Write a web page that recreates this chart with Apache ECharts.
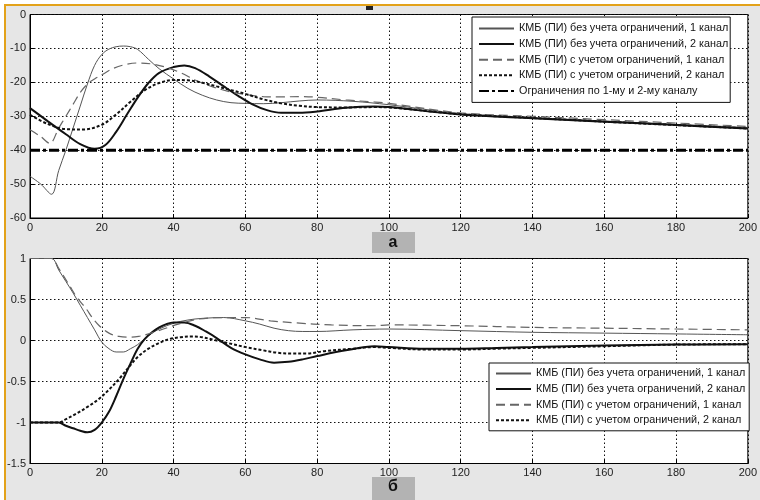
<!DOCTYPE html>
<html>
<head>
<meta charset="utf-8">
<script src="https://cdn.jsdelivr.net/npm/echarts@6/dist/echarts.min.js"></script>
<style>
html,body{margin:0;padding:0;background:#fff;}
#wrap{position:relative;width:760px;height:500px;}
#deco{position:absolute;left:4px;top:4px;width:754px;height:494px;background:#e6e6e6;border-left:2px solid #e3a21a;border-top:2px solid #e3a21a;}
#chart{position:absolute;left:0;top:0;width:760px;height:500px;}
</style>
</head>
<body>
<div id="wrap"><div id="deco"></div><div id="chart"></div></div>
<script>
// ---- names ----
const names = [
  'КМБ (ПИ) без учета ограничений, 1 канал',
  'КМБ (ПИ) без учета ограничений, 2 канал',
  'КМБ (ПИ) с учетом ограничений, 1 канал',
  'КМБ (ПИ) с учетом ограничений, 2 канал',
  'Ограничения по 1-му и 2-му каналу'
];
const panelLabels = ['а', 'б'];
const xTicks = [0, 20, 40, 60, 80, 100, 120, 140, 160, 180, 200];
const yTicksTop = [-60, -50, -40, -30, -20, -10, 0];
const yTicksBottom = [-1.5, -1, -0.5, 0, 0.5, 1];

// ---- panel а (top) ----
const tA1 = [0, 3, 6, 8, 10, 12, 14, 16, 18, 20, 22, 24, 26, 28, 30, 33, 36, 40, 44, 48, 52, 56, 60, 65, 70, 75, 80, 90, 100, 120, 140, 160, 180, 200];
const vA1 = [-47.7, -50, -53, -46, -40, -33.5, -27, -20.5, -15, -11.8, -10.2, -9.5, -9.3, -9.5, -10.3, -13.2, -16, -19, -21.8, -23.8, -25.2, -26, -26.2, -26.3, -26, -25.5, -25.2, -25.6, -26.6, -29.2, -30.4, -31.4, -32.4, -33.3];

const tA2 = [0, 5, 10, 14, 18, 21, 24, 27, 30, 33, 36, 40, 43, 46, 50, 54, 58, 62, 66, 70, 75, 80, 88, 96, 100, 120, 140, 160, 180, 200];
const vA2 = [-27.6, -31.5, -35.3, -38.2, -39.6, -38.5, -34.6, -29.5, -24.5, -20.2, -17.2, -15.5, -15, -15.8, -18.3, -21.2, -24, -26.5, -28.2, -29, -29, -28.6, -27.5, -27.1, -27.3, -29.5, -30.6, -31.6, -32.6, -33.6];

const tA3 = [0, 3, 5.5, 8, 10, 12, 14, 16, 18, 20, 23, 26, 30, 34, 38, 42, 46, 50, 55, 60, 65, 70, 75, 80, 88, 96, 100, 120, 140, 160, 180, 200];
const vA3 = [-34, -36, -38, -33.5, -30, -26.5, -23, -20.5, -19, -17.8, -16, -14.9, -14.3, -14.6, -15.6, -17.2, -19.3, -21, -22.6, -23.6, -24.2, -24.3, -24.2, -24.4, -25.2, -25.8, -26.2, -29, -30, -31, -32, -33];

const tA4 = [0, 5, 10, 15, 20, 24, 28, 32, 36, 40, 44, 48, 52, 56, 60, 65, 70, 75, 80, 88, 96, 100, 120, 140, 160, 180, 200];
const vA4 = [-29.6, -32.3, -33.8, -33.9, -32.5, -29.5, -25.7, -22.3, -20.2, -19.3, -19.4, -20.1, -21.2, -22.3, -23.4, -25, -26.2, -26.9, -27.3, -27.4, -27.3, -27.4, -29.4, -30.5, -31.6, -32.6, -33.6];

const tLim = [0, 200];
const vLim = [-40, -40];

// ---- panel б (bottom) ----
const tB1 = [0, 6, 8, 10, 12, 14, 16, 18, 20, 22, 24, 26, 28, 30, 33, 36, 40, 44, 48, 54, 60, 64, 68, 72, 76, 80, 90, 100, 120, 140, 160, 180, 200];
const vB1 = [1, 1, 0.86, 0.72, 0.58, 0.43, 0.28, 0.13, -0.02, -0.1, -0.14, -0.14, -0.1, -0.05, 0.06, 0.14, 0.21, 0.25, 0.27, 0.28, 0.24, 0.2, 0.15, 0.12, 0.11, 0.11, 0.13, 0.14, 0.12, 0.1, 0.09, 0.08, 0.07];

const tB2 = [0, 8, 10, 12, 14, 16, 18, 20, 22, 24, 26, 28, 30, 32, 34, 36, 38, 40, 43, 46, 49, 52, 56, 60, 64, 68, 72, 76, 80, 88, 96, 100, 110, 120, 130, 140, 160, 180, 200];
const vB2 = [-1, -1, -1.04, -1.07, -1.1, -1.12, -1.09, -1.0, -0.87, -0.68, -0.47, -0.28, -0.1, 0.02, 0.1, 0.16, 0.2, 0.22, 0.22, 0.18, 0.11, 0.03, -0.09, -0.17, -0.23, -0.27, -0.26, -0.23, -0.19, -0.12, -0.07, -0.08, -0.1, -0.1, -0.09, -0.08, -0.06, -0.05, -0.045];

const tB3 = [0, 6, 8, 11, 13, 15.6, 17.5, 19.3, 22, 24.8, 28, 30.3, 33, 35.8, 38.5, 41.3, 46.8, 54, 60, 67, 74, 84, 96, 100, 120, 140, 160, 180, 200];
const vB3 = [1, 1, 0.88, 0.67, 0.53, 0.39, 0.27, 0.18, 0.09, 0.05, 0.04, 0.05, 0.08, 0.12, 0.16, 0.2, 0.26, 0.28, 0.28, 0.24, 0.215, 0.19, 0.18, 0.19, 0.18, 0.16, 0.15, 0.14, 0.13];

const tB4 = [0, 8, 10, 13, 16, 19, 22, 25, 28, 30, 33, 36, 39, 42, 45, 48, 51, 55, 60, 65, 69, 73, 77, 82, 90, 96, 100, 110, 120, 130, 140, 160, 180, 200];
const vB4 = [-1, -1, -0.96, -0.89, -0.81, -0.72, -0.6, -0.46, -0.3, -0.2, -0.1, -0.03, 0.02, 0.04, 0.05, 0.04, 0.01, -0.03, -0.08, -0.12, -0.15, -0.16, -0.16, -0.13, -0.1, -0.08, -0.09, -0.11, -0.11, -0.1, -0.09, -0.07, -0.05, -0.045];

// ---- build ----
const zip = (t, v) => t.map((x, i) => [x, v[i]]);
const FONT = 'Liberation Sans, Arial, sans-serif';

const styles = [
  {color: '#555', width: 1, type: 'solid'},
  {color: '#111', width: 2, type: 'solid'},
  {color: '#666', width: 1.2, type: [9, 5]},
  {color: '#111', width: 2, type: [3, 2]},
  {color: '#000', width: 3, type: [10, 3, 3, 3]}
];

function mk(name, idx, data, axis) {
  const s = styles[idx];
  return {
    name: name, type: 'line', data: data,
    xAxisIndex: axis, yAxisIndex: axis,
    showSymbol: false, symbol: 'none', smooth: idx === 4 ? false : 0.35,
    lineStyle: {color: s.color, width: s.width, type: s.type},
    itemStyle: {color: s.color},
    emphasis: {disabled: true}
  };
}

const series = [
  mk(names[0], 0, zip(tA1, vA1), 0),
  mk(names[1], 1, zip(tA2, vA2), 0),
  mk(names[2], 2, zip(tA3, vA3), 0),
  mk(names[3], 3, zip(tA4, vA4), 0),
  mk(names[4], 4, zip(tLim, vLim), 0),
  mk(names[0], 0, zip(tB1, vB1), 1),
  mk(names[1], 1, zip(tB2, vB2), 1),
  mk(names[2], 2, zip(tB3, vB3), 1),
  mk(names[3], 3, zip(tB4, vB4), 1)
];

const gridLine = {color: '#111', type: [1.5, 2.5], width: 1};

function xAx(grid) {
  return {
    type: 'value', gridIndex: grid, min: xTicks[0], max: xTicks[xTicks.length - 1], interval: 20,
    axisLine: {show: true, onZero: false, lineStyle: {color: '#000', width: 1}},
    axisTick: {show: true, inside: true, length: 4, lineStyle: {color: '#000'}},
    axisLabel: {color: '#222', fontSize: 11, fontFamily: FONT, margin: 4},
    splitLine: {show: true, lineStyle: gridLine}
  };
}
function yAx(grid, ticks, interval) {
  return {
    type: 'value', gridIndex: grid, min: ticks[0], max: ticks[ticks.length - 1], interval: interval,
    axisLine: {show: true, onZero: false, lineStyle: {color: '#000', width: 1}},
    axisTick: {show: true, inside: true, length: 4, lineStyle: {color: '#000'}},
    axisLabel: {color: '#222', fontSize: 11, fontFamily: FONT, margin: 4},
    splitLine: {show: true, lineStyle: gridLine}
  };
}

const legendCommon = {
  orient: 'vertical', backgroundColor: '#fff', borderColor: '#111', borderWidth: 1,
  itemWidth: 35, itemHeight: 12, itemGap: 4.6, padding: [6, 2, 6, 6],
  itemStyle: {opacity: 0},
  textStyle: {color: '#111', fontSize: 10.8, fontFamily: FONT},
  selectedMode: false
};

const chart = echarts.init(document.getElementById('chart'), null, {renderer: 'canvas'});
chart.setOption({
  animation: false,
  backgroundColor: 'transparent',
  grid: [
    {left: 30, right: 4, top: 14.5, bottom: 282, show: true, backgroundColor: '#fff', borderColor: '#000', borderWidth: 1},
    {left: 30, right: 4, top: 258.5, bottom: 36.5, show: true, backgroundColor: '#fff', borderColor: '#000', borderWidth: 1}
  ],
  xAxis: [xAx(0), xAx(1)],
  yAxis: [yAx(0, yTicksTop, 10), yAx(1, yTicksBottom, 0.5)],
  legend: [
    Object.assign({}, legendCommon, {left: 472, top: 17, data: names.slice(0, 5)}),
    Object.assign({}, legendCommon, {left: 489, top: 363, padding: [5, 4, 5, 6], data: names.slice(0, 4)})
  ],
  series: series,
  graphic: [
    {type: 'rect', left: 366, top: 6, shape: {width: 7, height: 4}, style: {fill: '#222'}},
    {type: 'rect', shape: {x: 372, y: 232, width: 43, height: 21}, style: {fill: '#b3b3b3'}},
    {type: 'text', style: {x: 393, y: 243, text: panelLabels[0], fill: '#111', font: 'bold 16px ' + FONT, textAlign: 'center', textVerticalAlign: 'middle'}},
    {type: 'rect', shape: {x: 372, y: 477, width: 43, height: 23}, style: {fill: '#b3b3b3'}},
    {type: 'text', style: {x: 393, y: 487, text: panelLabels[1], fill: '#111', font: 'bold 16px ' + FONT, textAlign: 'center', textVerticalAlign: 'middle'}}
  ]
});
</script>
</body>
</html>
